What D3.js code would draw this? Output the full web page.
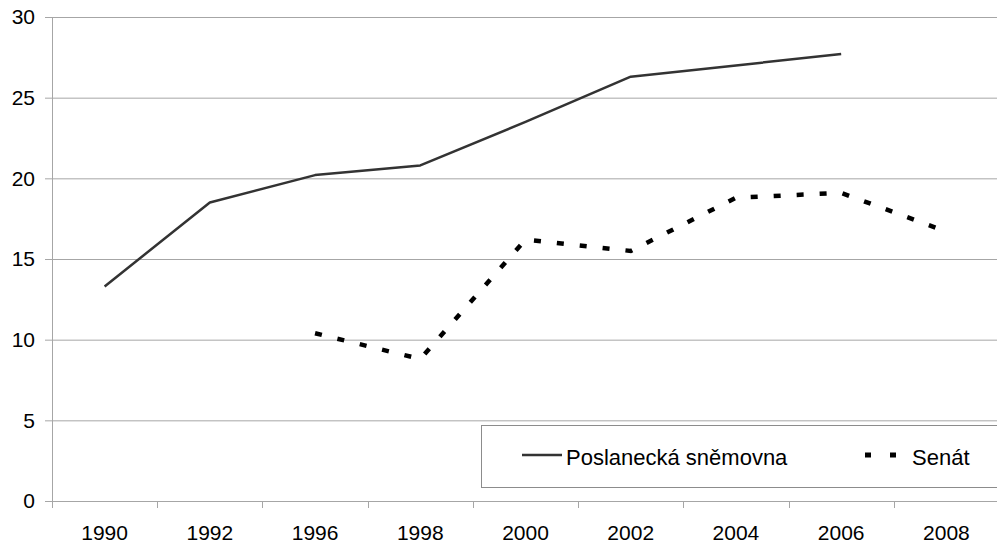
<!DOCTYPE html>
<html>
<head>
<meta charset="utf-8">
<script src="https://cdn.jsdelivr.net/npm/d3@7"></script>
<style>
  body { margin: 0; background: #fff; }
  svg { display: block; }
  text { font-family: "Liberation Sans", Arial, sans-serif; }
</style>
</head>
<body>
<div id="vis"></div>
<script>
const frame_width = 997;
const frame_height = 543;
const margins = {left: 52, right: -2, top: 17, bottom: 42};

// data
const years = ["1990", "1992", "1996", "1998", "2000", "2002", "2004", "2006", "2008"];
const poslanecka = [13.3, 18.5, 20.2, 20.8, 23.5, 26.3, 27.0, 27.7, null];
const senat = [null, null, 10.4, 8.8, 16.2, 15.5, 18.8, 19.1, 16.7];
const y_ticks = [0, 5, 10, 15, 20, 25, 30];
const series_names = ["Poslanecká sněmovna", "Senát"];

const FRAME = d3.select("#vis")
  .append("svg")
    .attr("width", frame_width)
    .attr("height", frame_height);

const X_SCALE = d3.scaleBand()
  .domain(years)
  .range([margins.left, frame_width - margins.right]);

const Y_SCALE = d3.scaleLinear()
  .domain([0, 30])
  .range([frame_height - margins.bottom, margins.top]);

const grid_color = "#a6a6a6";

// gridlines + y axis
FRAME.append("g")
  .attr("transform", "translate(" + margins.left + ",0)")
  .call(d3.axisLeft(Y_SCALE).tickValues(y_ticks)
    .tickSize(-(frame_width - margins.left - margins.right))
    .tickSizeOuter(0)
    .tickPadding(10))
  .attr("font-family", null)
  .call(g => g.select(".domain").remove())
  .call(g => g.selectAll(".tick line")
    .attr("x1", -7)
    .attr("stroke", grid_color))
  .call(g => g.selectAll(".tick text")
    .attr("font-size", "21px")
    .attr("fill", "#000")
    .attr("x", -17));

// y axis line
FRAME.append("line")
  .attr("x1", margins.left + 0.5).attr("x2", margins.left + 0.5)
  .attr("y1", Y_SCALE(30)).attr("y2", Y_SCALE(0) + 7)
  .attr("stroke", grid_color);

// x axis labels
FRAME.append("g")
  .attr("transform", "translate(0," + Y_SCALE(0) + ")")
  .call(d3.axisBottom(X_SCALE).tickSize(0).tickPadding(24))
  .attr("font-family", null)
  .call(g => g.select(".domain").remove())
  .call(g => g.selectAll(".tick text")
    .attr("font-size", "21px")
    .attr("fill", "#000"));

// x tick marks at category boundaries
FRAME.append("g")
  .selectAll("line")
  .data(years.slice(1))
  .enter()
  .append("line")
    .attr("x1", d => Math.round(X_SCALE(d)) + 0.5)
    .attr("x2", d => Math.round(X_SCALE(d)) + 0.5)
    .attr("y1", Y_SCALE(0))
    .attr("y2", Y_SCALE(0) + 7)
    .attr("stroke", grid_color);

const cx = d => X_SCALE(d) + X_SCALE.bandwidth() / 2;

const line = d3.line()
  .defined(d => d.v !== null)
  .x(d => cx(d.year))
  .y(d => Y_SCALE(d.v));

FRAME.append("path")
  .datum(years.map((y, i) => ({year: y, v: poslanecka[i]})))
  .attr("d", line)
  .attr("fill", "none")
  .attr("stroke", "#333")
  .attr("stroke-width", 2.5)
  .attr("stroke-linejoin", "round");

FRAME.append("path")
  .datum(years.map((y, i) => ({year: y, v: senat[i]})))
  .attr("d", line)
  .attr("fill", "none")
  .attr("stroke", "#000")
  .attr("stroke-width", 4.5)
  .attr("stroke-dasharray", "7,16");

// legend
const legend = FRAME.append("g");
legend.append("rect")
  .attr("x", 481.5).attr("y", 425.5)
  .attr("width", 530).attr("height", 62)
  .attr("fill", "#fff")
  .attr("stroke", "#8c8c8c");

legend.append("line")
  .attr("x1", 522).attr("x2", 562)
  .attr("y1", 455).attr("y2", 455)
  .attr("stroke", "#333").attr("stroke-width", 2.5);
legend.append("text")
  .attr("x", 566).attr("y", 465)
  .attr("font-size", "22px")
  .text(series_names[0]);

legend.append("line")
  .attr("x1", 865).attr("x2", 896)
  .attr("y1", 455).attr("y2", 455)
  .attr("stroke", "#000").attr("stroke-width", 5)
  .attr("stroke-dasharray", "6,19");
legend.append("text")
  .attr("x", 912).attr("y", 465)
  .attr("font-size", "22px")
  .text(series_names[1]);
</script>
</body>
</html>
